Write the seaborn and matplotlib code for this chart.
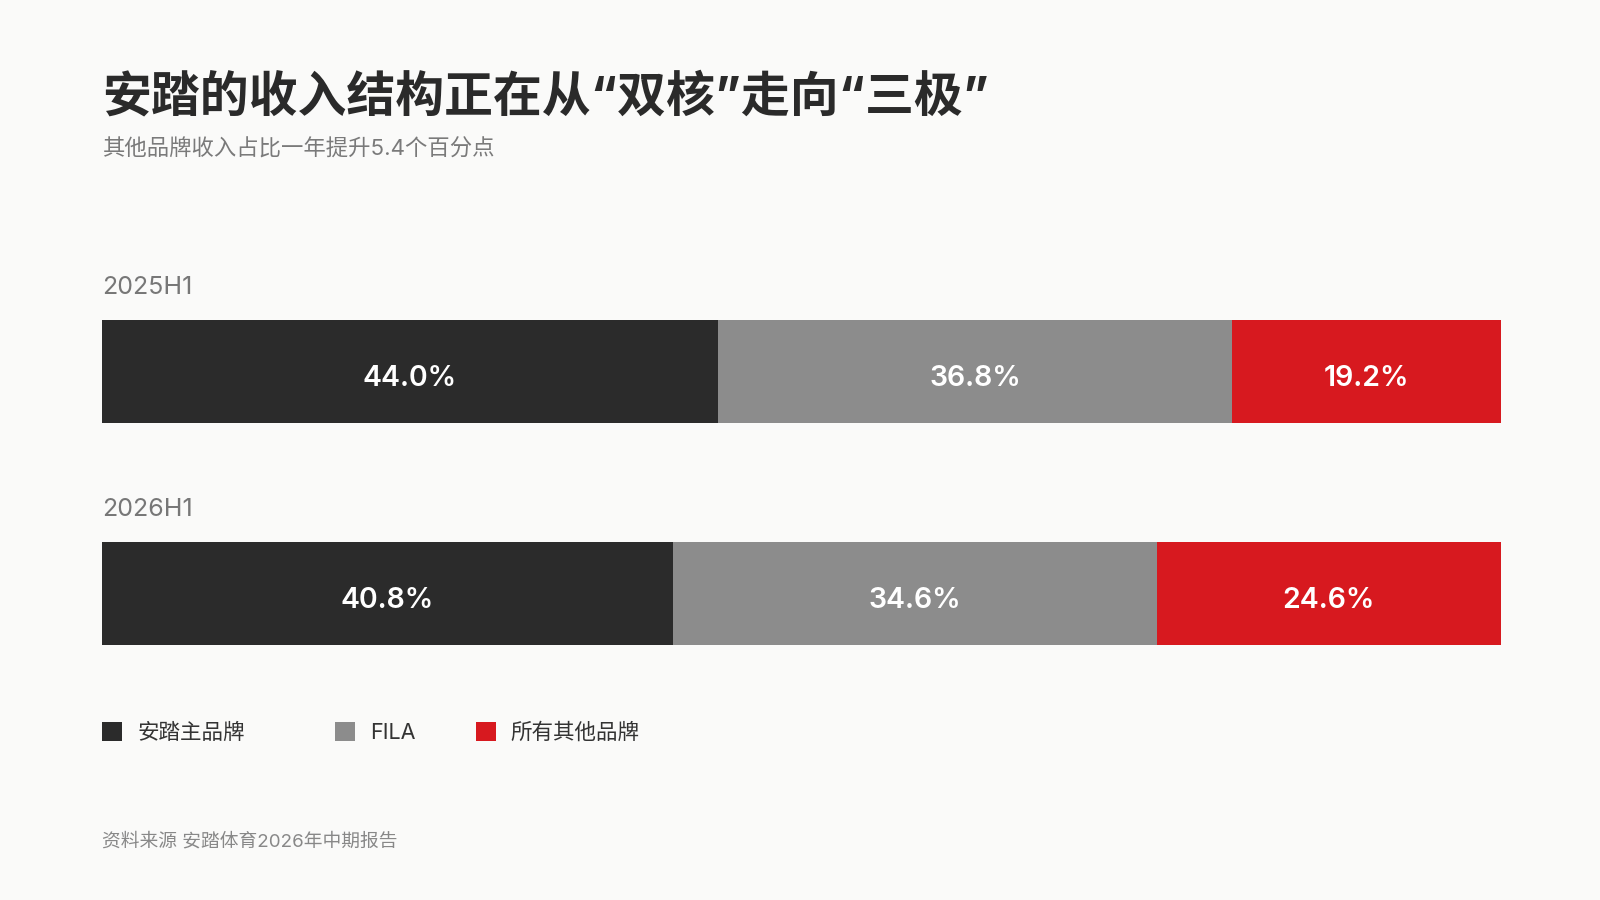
import matplotlib
matplotlib.use("Agg")
import matplotlib.pyplot as plt
import matplotlib.patches as mpatches
import seaborn as sns
import numpy as np

# data
periods = ["2025H1", "2026H1"]
brands = ["安踏主品牌", "FILA", "所有其他品牌"]
anta = [44.0, 40.8]
fila = [36.8, 34.6]
others = [19.2, 24.6]

colors = ["#2b2b2b", "#8c8c8c", "#d7191f"]
bg = "#fafaf9"

sns.set_theme(style="white")
plt.rcParams['font.family'] = ['Inter', 'Noto Sans CJK SC', 'DejaVu Sans']

fig = plt.figure(figsize=(16, 9), dpi=100, facecolor=bg)
ax = fig.add_axes([0.0638, 0.2834, 0.938 - 0.0638, 0.644 - 0.2834])
ax.set_facecolor(bg)

bar_w = 0.465
series = [anta, fila, others]
cum = np.cumsum(np.array(series), axis=0)  # running totals per period

# draw back to front so the stacked look comes out right
for k in range(len(series) - 1, -1, -1):
    sns.barplot(x=cum[k], y=periods, color=colors[k], saturation=1,
                width=bar_w, orient="h", ax=ax, linewidth=0)

# segment labels
for k, vals in enumerate(series):
    for i, v in enumerate(vals):
        start = cum[k][i] - v
        ax.text(start + v / 2, i + 0.03, f"{v:.1f}%", ha="center", va="center",
                color="white", fontsize=20.5, fontweight="semibold")

# period labels above each bar
for i, p in enumerate(periods):
    ax.text(0, i - bar_w / 2 - 0.147, p, ha="left", va="center",
            color="#777777", fontsize=18)

ax.set_xlim(0, 100)
ax.set_ylim(1 + bar_w / 2, -bar_w / 2)
ax.axis("off")

# titles
fig.text(0.0638, 0.891, "安踏的收入结构正在从“双核”走向“三极”", ha="left", va="center",
         fontsize=35.2, fontweight="bold", color="#2a2a2a")
fig.text(0.0638, 0.835, "其他品牌收入占比一年提升5.4个百分点", ha="left", va="center",
         fontsize=16.1, color="#7a7a7a")

# legend, one entry per box so each sits where the reference has it
legend_x = [0.0638, 0.2092, 0.2972]
for c, b, lx in zip(colors, brands, legend_x):
    leg = fig.legend(handles=[mpatches.Patch(facecolor=c, edgecolor="none", label=b)],
                     loc="center left", bbox_to_anchor=(lx, 0.186), frameon=False,
                     fontsize=15.5, handlelength=0.94, handleheight=0.94,
                     handletextpad=0.7, borderpad=0, borderaxespad=0)
    for t in leg.get_texts():
        t.set_color("#333333")

# source
fig.text(0.0638, 0.065, "资料来源 安踏体育2026年中期报告", ha="left", va="center",
         fontsize=13.5, color="#888888")

fig.savefig("out.png", dpi=100, facecolor=bg)
